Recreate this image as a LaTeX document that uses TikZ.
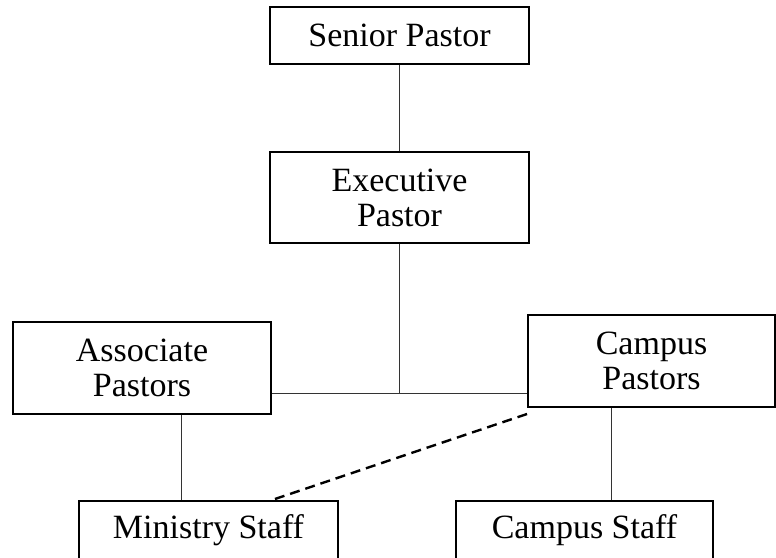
\documentclass[tikz,border=0pt]{standalone}
\usepackage{fontspec}
\setmainfont{Liberation Serif}
\begin{document}
\begin{tikzpicture}[x=1pt,y=-1pt,
  box/.style={draw=black,line width=2pt,inner sep=0pt,align=center,
    font=\fontsize{34}{35}\selectfont},
  link/.style={draw=black!80,line width=1pt},
  dotted link/.style={draw=black,line width=2.4pt,dash pattern=on 10pt off 6pt}]
  \clip (0,0) rectangle (776,557);
  \fill[white] (0,0) rectangle (776,557);

  % positions
  \node[box,minimum width=259,minimum height=57] (sp) at (399.5,35.5) {Senior Pastor};
  \node[box,minimum width=259,minimum height=91] (ep) at (399.5,197.5) {Executive\\Pastor};
  \node[box,minimum width=258,minimum height=92] (ap) at (142,368) {Associate\\Pastors};
  \node[box,minimum width=247,minimum height=92] (cp) at (651.5,361) {Campus\\Pastors};
  \node[box,minimum width=259,minimum height=58] (ms) at (208.5,530) {Ministry Staff};
  \node[box,minimum width=257,minimum height=58] (cs) at (584.5,530) {Campus Staff};

  % connection points
  \coordinate (j) at (399.5,393);
  \coordinate (la) at (181,0);
  \coordinate (lc) at (611,0);
  \coordinate (ds) at ([yshift=-6pt]cp.south west);
  \coordinate (de) at (272,0);

  \draw[link] (sp.south) -- (ep.north);
  \draw[link] (ep.south) -- (j);
  \draw[link] (ap.east |- j) -- (cp.west |- j);
  \draw[link] (ap.south -| la) -- (ms.north -| la);
  \draw[link] (cp.south -| lc) -- (cs.north -| lc);
  \draw[dotted link] (ds) -- (ms.north -| de);
\end{tikzpicture}
\end{document}
